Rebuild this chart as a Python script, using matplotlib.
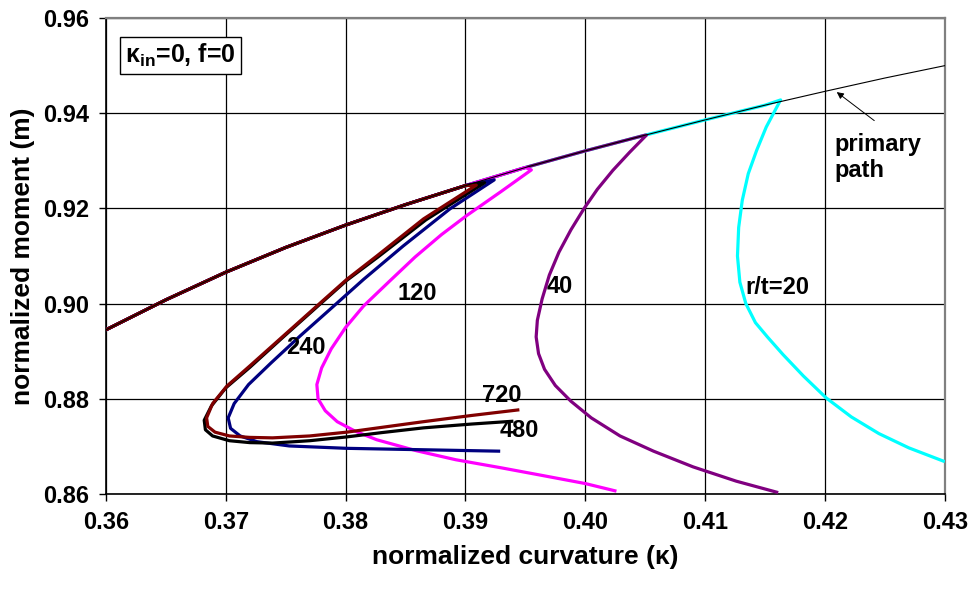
import numpy as np
import matplotlib.pyplot as plt

plt.rcParams["font.family"] = ["Liberation Sans", "DejaVu Sans"]
plt.rcParams["font.weight"] = "bold"
plt.rcParams["mathtext.fontset"] = "custom"
plt.rcParams["mathtext.rm"] = "Liberation Sans:bold"
plt.rcParams["mathtext.bf"] = "Liberation Sans:bold"
plt.rcParams["mathtext.it"] = "Liberation Sans:bold"

# primary path
primary_x = [0.36, 0.365, 0.37, 0.375, 0.38, 0.385, 0.39, 0.395, 0.40, 0.405,
             0.41, 0.415, 0.42, 0.425, 0.43]
primary_y = [0.8945, 0.9008, 0.9066, 0.9118, 0.9165, 0.9208, 0.9248, 0.9286, 0.9321, 0.9354,
             0.9386, 0.9417, 0.9446, 0.9474, 0.9500]

# branches after bifurcation (first point = bifurcation point)
rt20_x = [0.4163, 0.4151, 0.4143, 0.4136, 0.4131, 0.4128, 0.4127, 0.4129, 0.4134, 0.4142,
          0.4152, 0.4165, 0.4182, 0.4201, 0.4222, 0.4245, 0.4270, 0.4300]
rt20_y = [0.9428, 0.9371, 0.9322, 0.9273, 0.9217, 0.9160, 0.9100, 0.9045, 0.9000, 0.8960,
          0.8930, 0.8893, 0.8848, 0.8802, 0.8762, 0.8727, 0.8697, 0.8668]

rt40_x = [0.4051, 0.4037, 0.4023, 0.4010, 0.3999, 0.3988, 0.3978, 0.3970, 0.3964, 0.3960,
          0.3959, 0.3961, 0.3966, 0.3975, 0.3988, 0.4005, 0.4029, 0.4057, 0.4090, 0.4126, 0.4161]
rt40_y = [0.9354, 0.9318, 0.9280, 0.9240, 0.9200, 0.9155, 0.9108, 0.9060, 0.9010, 0.8965,
          0.8930, 0.8895, 0.8862, 0.8828, 0.8795, 0.8760, 0.8722, 0.8690, 0.8657, 0.8627, 0.8603]

rt120_x = [0.3955, 0.3930, 0.3901, 0.3880, 0.3858, 0.3837, 0.3815, 0.3800, 0.3788, 0.3780,
           0.3776, 0.3777, 0.3783, 0.3793, 0.3808, 0.3826, 0.3859, 0.3892, 0.3930, 0.3962,
           0.4000, 0.4026]
rt120_y = [0.9281, 0.9236, 0.9185, 0.9145, 0.9098, 0.9048, 0.8995, 0.8950, 0.8905, 0.8865,
           0.8830, 0.8800, 0.8775, 0.8752, 0.8732, 0.8714, 0.8691, 0.8672, 0.8655, 0.8640,
           0.8622, 0.8606]

rt240_x = [0.3924, 0.3887, 0.3848, 0.3815, 0.3787, 0.3762, 0.3738, 0.3719, 0.3707, 0.3702,
           0.3704, 0.3712, 0.3726, 0.3753, 0.3801, 0.3865, 0.3929]
rt240_y = [0.9260, 0.9199, 0.9121, 0.9051, 0.8988, 0.8932, 0.8876, 0.8830, 0.8790, 0.8760,
           0.8738, 0.8722, 0.8710, 0.8701, 0.8696, 0.8693, 0.8690]

rt480_x = [0.3916, 0.3867, 0.3827, 0.3801, 0.3776, 0.3748, 0.3720, 0.3700, 0.3688, 0.3682,
           0.3683, 0.3689, 0.3703, 0.3720, 0.3739, 0.3770, 0.3801, 0.3830, 0.3865, 0.3905, 0.3940]
rt480_y = [0.9254, 0.9176, 0.9098, 0.9049, 0.8993, 0.8930, 0.8866, 0.8823, 0.8785, 0.8755,
           0.8735, 0.8722, 0.8712, 0.8708, 0.8707, 0.8712, 0.8720, 0.8729, 0.8739, 0.8747, 0.8753]

rt720_x = [0.3909, 0.3865, 0.3826, 0.3801, 0.3776, 0.3748, 0.3720, 0.3701, 0.3689, 0.3684,
           0.3685, 0.3691, 0.3703, 0.3720, 0.3739, 0.3770, 0.3801, 0.3830, 0.3865, 0.3905, 0.3945]
rt720_y = [0.9249, 0.9178, 0.9100, 0.9051, 0.8995, 0.8932, 0.8869, 0.8827, 0.8790, 0.8760,
           0.8742, 0.8730, 0.8722, 0.8719, 0.8718, 0.8722, 0.8730, 0.8740, 0.8752, 0.8765, 0.8777]

series = [
    ("r/t=20", rt20_x, rt20_y, "#00ffff"),
    ("40", rt40_x, rt40_y, "#800080"),
    ("120", rt120_x, rt120_y, "#ff00ff"),
    ("240", rt240_x, rt240_y, "#000080"),
    ("480", rt480_x, rt480_y, "#000000"),
    ("720", rt720_x, rt720_y, "#800000"),
]

# label positions (centers)
labels = {"r/t=20": (0.4160, 0.9034), "40": (0.3979, 0.9036), "120": (0.3860, 0.9022),
          "240": (0.3767, 0.8907), "480": (0.3945, 0.8733), "720": (0.3930, 0.8808)}

fig = plt.figure(figsize=(9.72, 5.92), dpi=100)
ax = fig.add_axes([0.109, 0.1655, 0.863, 0.804])

px = np.array(primary_x)
py = np.array(primary_y)
for name, bx, by, color in series:
    pre = px < bx[0]
    x = np.concatenate([px[pre], bx])
    y = np.concatenate([py[pre], by])
    ax.plot(x, y, color=color, linewidth=2.3, solid_capstyle="butt",
            solid_joinstyle="round", zorder=3)
    lx, ly = labels[name]
    ax.text(lx, ly, name, fontsize=17, fontweight="bold", ha="center", va="center", zorder=5)

ax.plot(primary_x, primary_y, color="black", linewidth=0.8, zorder=4)

ax.annotate("", xy=(0.4208, 0.9448), xytext=(0.4243, 0.9381),
            arrowprops=dict(arrowstyle="-|>", color="black", lw=0.7, mutation_scale=10))
ax.text(0.4208, 0.9358, "primary\npath", fontsize=17, fontweight="bold", ha="left", va="top",
        linespacing=1.15)

ax.text(0.3616, 0.9522, r"$\mathbf{\kappa_{in}}$=0, f=0", fontsize=18, fontweight="bold",
        ha="left", va="center",
        bbox=dict(boxstyle="square,pad=0.2", facecolor="white", edgecolor="black", linewidth=1))

ax.set_xlim(0.36, 0.43)
ax.set_ylim(0.86, 0.96)
ax.set_xticks(np.arange(0.36, 0.4301, 0.01))
ax.set_yticks(np.arange(0.86, 0.9601, 0.02))
ax.xaxis.set_major_formatter("{x:.2f}")
ax.yaxis.set_major_formatter("{x:.2f}")
ax.tick_params(direction="out", length=5, width=1, labelsize=17, pad=7)
ax.grid(True, color="black", linewidth=0.9)
for s in ["top", "right"]:
    ax.spines[s].set_color("#808080")
    ax.spines[s].set_linewidth(1.6)
for s in ["left", "bottom"]:
    ax.spines[s].set_linewidth(1.2)
ax.set_xlabel("normalized curvature (κ)", fontsize=19, fontweight="bold", labelpad=8)
ax.set_ylabel("normalized moment (m)", fontsize=19, fontweight="bold", labelpad=6)

fig.savefig("out.png", dpi=100)
